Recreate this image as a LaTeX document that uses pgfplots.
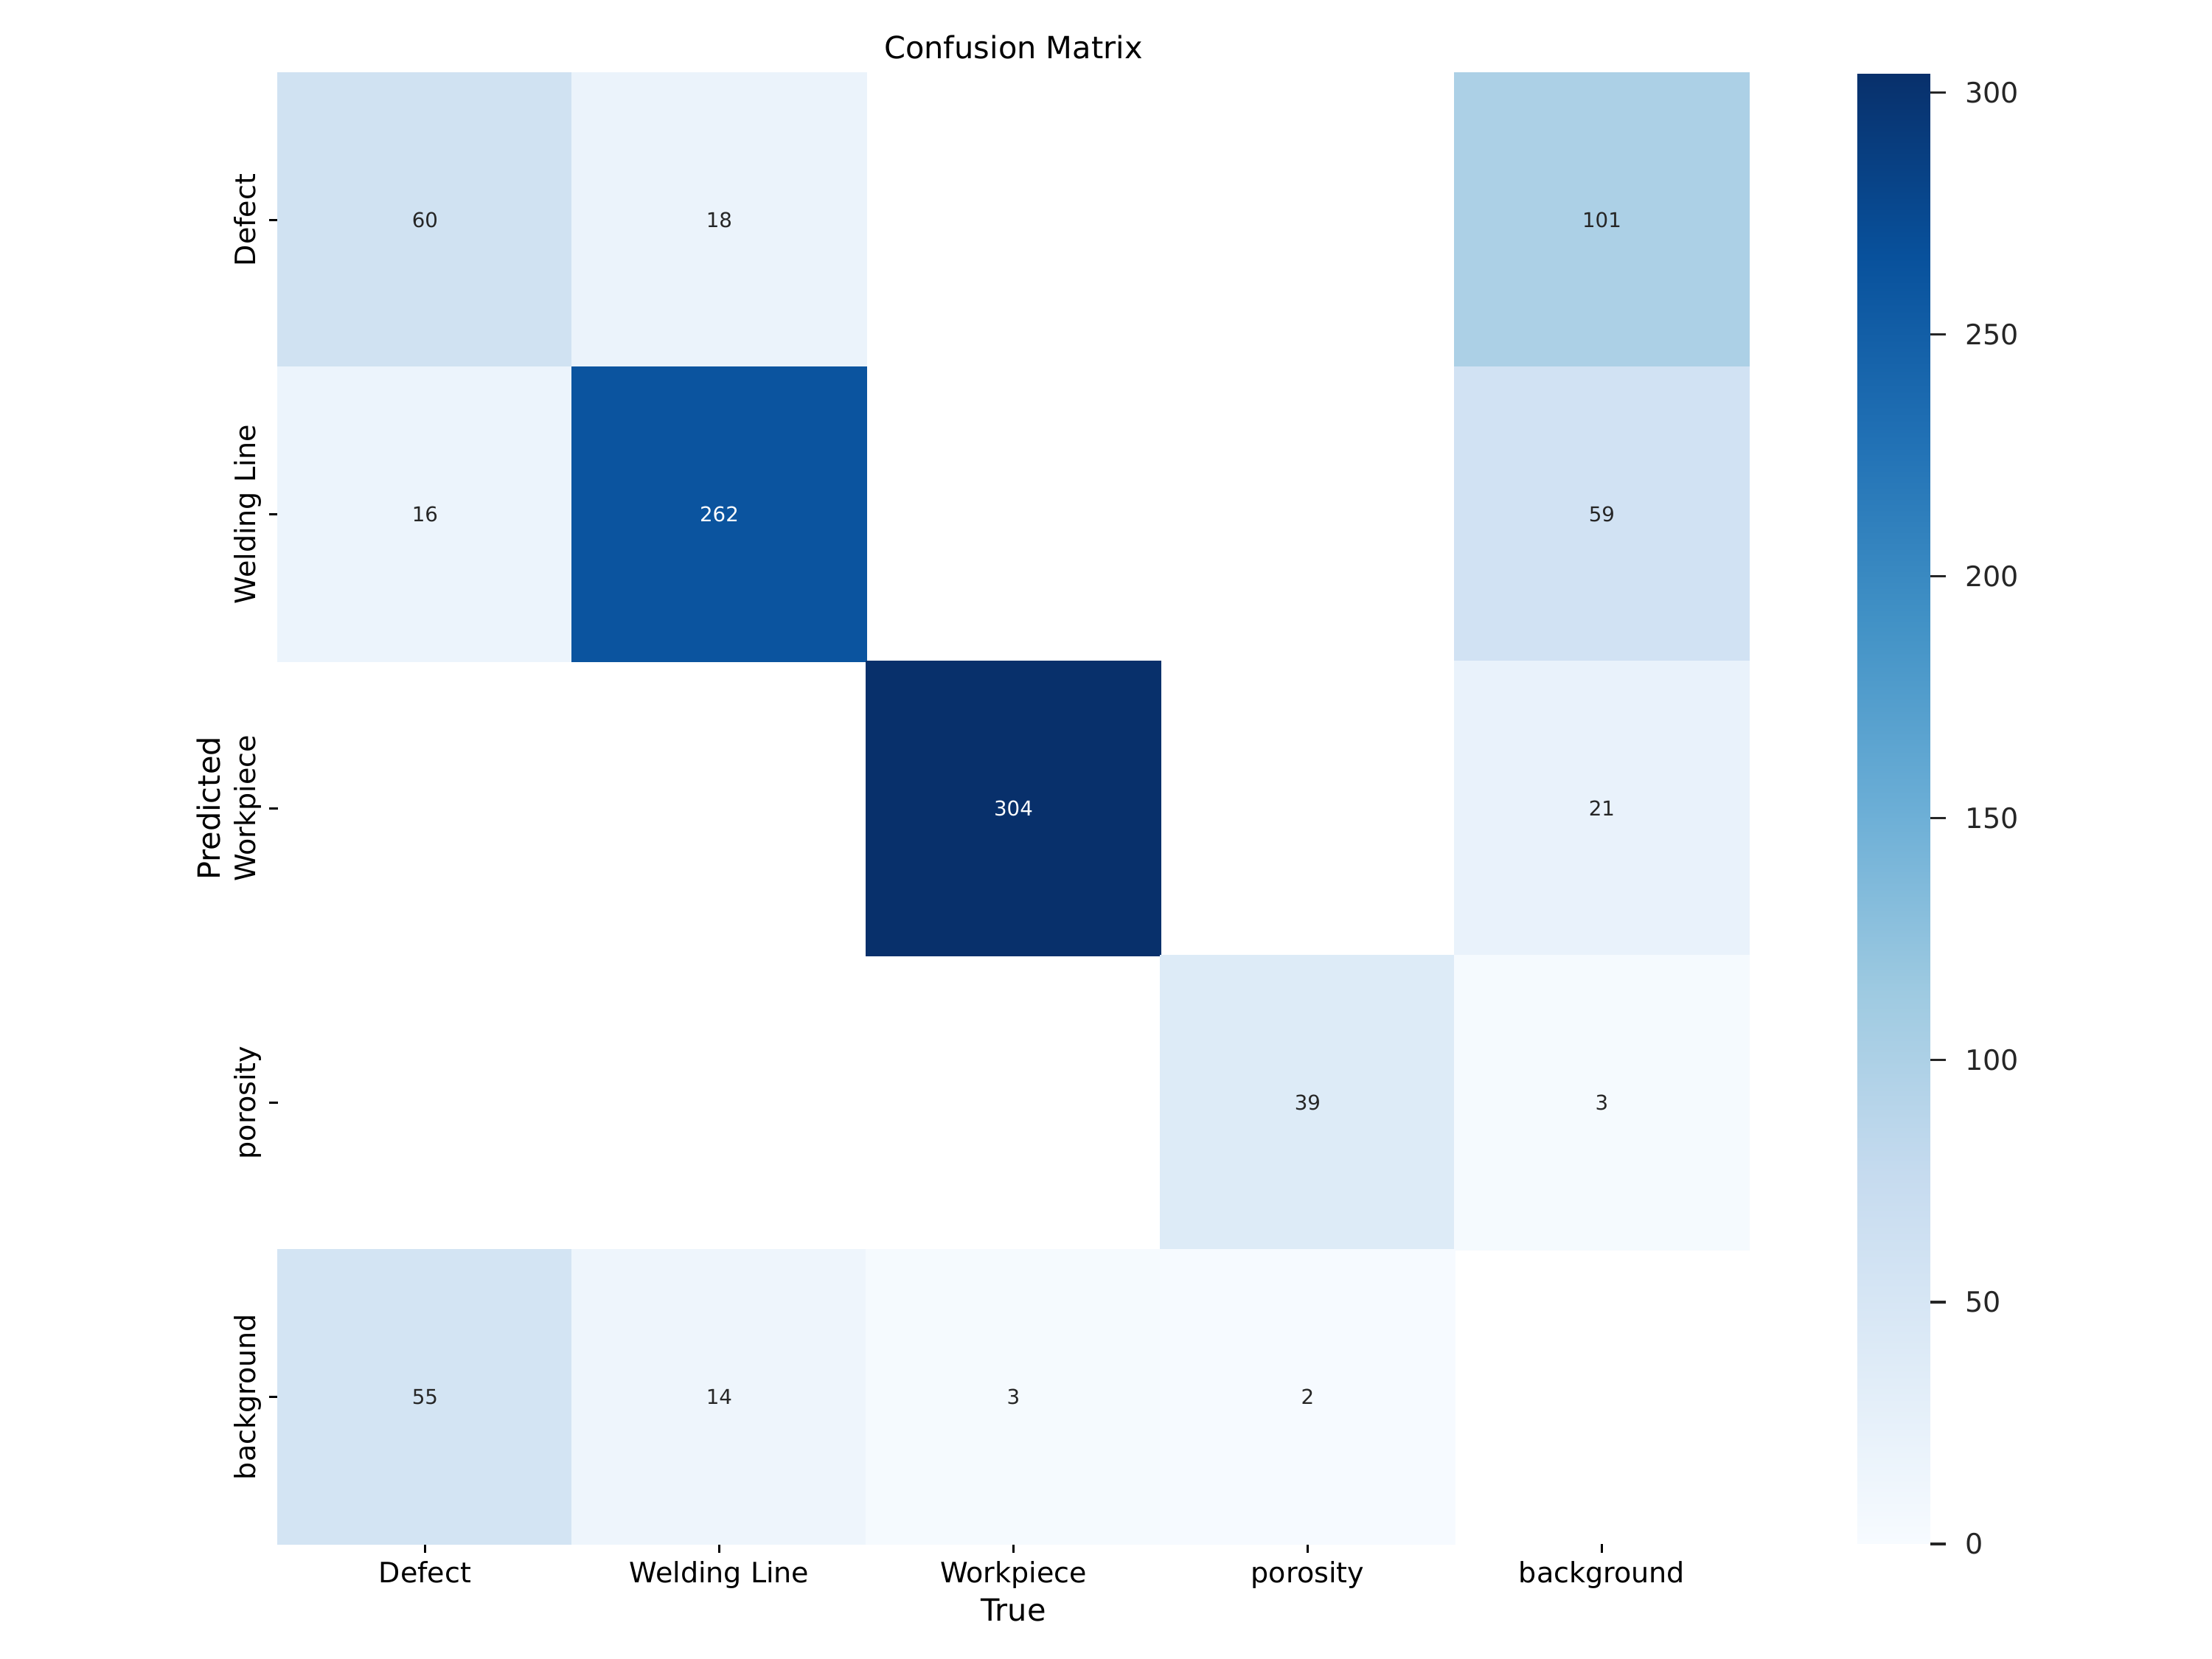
\documentclass[border=0pt]{standalone}
\usepackage{fontspec}
\setmainfont{DejaVu Sans}
\usepackage{pgfplots}
\pgfplotsset{compat=1.18}
\pgfplotsset{
  colormap={blues}{rgb255=(247,251,255) rgb255=(222,235,247) rgb255=(198,219,239) rgb255=(158,202,225) rgb255=(107,174,214) rgb255=(66,146,198) rgb255=(33,113,181) rgb255=(8,81,156) rgb255=(8,48,107)},
  /pgf/number format/assume math mode=true,
}
\definecolor{annot}{gray}{0.15}

\pgfplotstableread{
x y v
0 4 60
1 4 18
4 4 101
0 3 16
1 3 262
4 3 59
2 2 304
4 2 21
3 1 39
4 1 3
0 0 55
1 0 14
2 0 3
3 0 2
}\cells
\pgfplotstableread{
x y v
0 4 60
1 4 18
4 4 101
0 3 16
4 3 59
4 2 21
3 1 39
4 1 3
0 0 55
1 0 14
2 0 3
3 0 2
}\lightcells
\pgfplotstableread{
x y v
1 3 262
2 2 304
}\darkcells

\begin{document}
\begin{tikzpicture}
\path[use as bounding box] (0,0) rectangle (867.24pt,650.43pt);
\begin{axis}[
  at={(108.98pt,45.10pt)}, anchor=south west,
  width=576.7pt, height=576.7pt, scale only axis,
  xmin=-0.5, xmax=4.5, ymin=-0.5, ymax=4.5,
  axis line style={draw=none},
  tick align=outside,
  major tick length=3.5pt,
  every tick/.style={black, line width=1pt},
  xtick={0,...,4}, ytick={0,...,4},
  xticklabels={Defect, Welding Line, Workpiece, porosity, background},
  yticklabels={background, porosity, Workpiece, Welding Line, Defect},
  xtick pos=left, ytick pos=left,
  ticklabel style={font=\fontsize{11}{13}\selectfont, text=black},
  xticklabel style={anchor=base, yshift=-11.8pt},
  yticklabel style={xshift=-5.2pt, rotate=90, anchor=base},
  colormap name=blues,
  point meta min=0, point meta max=304,
  title={Confusion Matrix},
  title style={font=\fontsize{12}{14}\selectfont, at={(0.5,1)}, anchor=base, yshift=-0.5pt},
  xlabel={True},
  xlabel style={font=\fontsize{12}{14}\selectfont, at={(0.5,0)}, anchor=base, yshift=-30.1pt},
  ylabel={Predicted},
  ylabel style={font=\fontsize{12}{14}\selectfont, at={(0,0.5)}, anchor=base, yshift=22.8pt},
  colorbar,
  colorbar/width=28.6pt,
  colorbar shift/.style={xshift=42.5pt},
  colorbar style={
    ytick={0,50,...,300},
    axis line style={draw=none},
    tick align=outside, major tick length=6.2pt,
    ytick pos=right, yticklabel pos=right,
    every tick/.style={annot, line width=1pt},
    yticklabel style={font=\fontsize{11}{13}\selectfont, text=annot, anchor=west, xshift=4pt},
    /pgf/number format/assume math mode=true,
  },
]
\addplot[scatter, only marks, mark=square*, mark size=57.67pt,
  scatter/use mapped color={draw=mapped color, fill=mapped color},
  point meta=explicit]
  table[meta=v]{\cells};
\addplot[draw=none, mark=none, point meta=explicit,
  nodes near coords, nodes near coords align={center},
  every node near coord/.append style={font=\fontsize{8}{9}\selectfont, text=annot, anchor=center}]
  table[meta=v]{\lightcells};
\addplot[draw=none, mark=none, point meta=explicit,
  nodes near coords, nodes near coords align={center},
  every node near coord/.append style={font=\fontsize{8}{9}\selectfont, text=white, anchor=center}]
  table[meta=v]{\darkcells};
\end{axis}
\end{tikzpicture}
\end{document}
